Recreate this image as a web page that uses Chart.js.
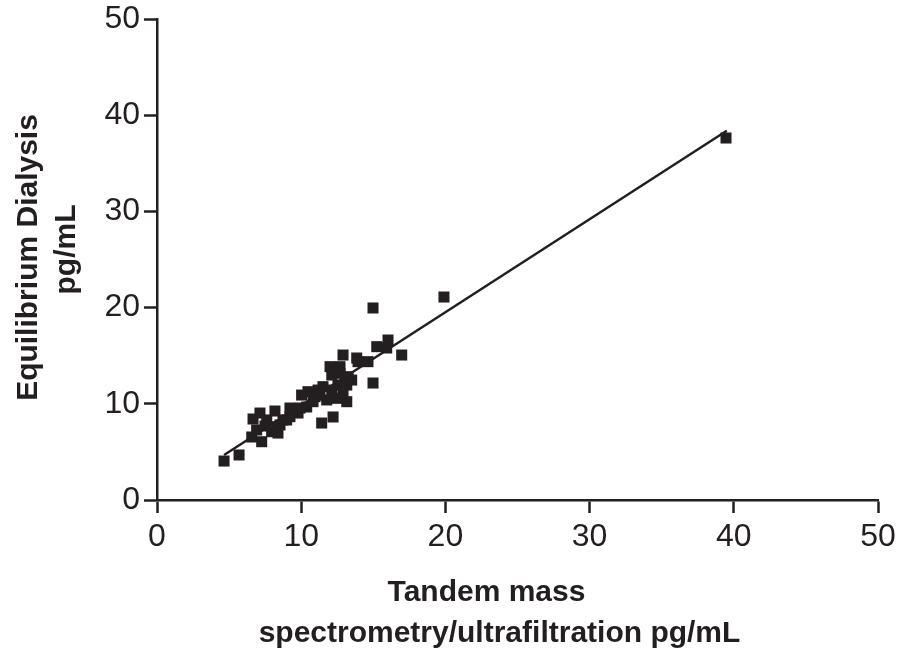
<!DOCTYPE html>
<html>
<head>
<meta charset="utf-8">
<script src="https://cdn.jsdelivr.net/npm/chart.js@4/dist/chart.umd.min.js"></script>
<style>
  html, body { margin: 0; padding: 0; background: #ffffff; }
  #wrap { width: 898px; height: 649px; }
</style>
</head>
<body>
<div id="wrap"><canvas id="c" width="898" height="649"></canvas></div>
<script>
// Tandem MS/ultrafiltration (x) vs equilibrium dialysis (y), pg/mL
const xValues = [4.65, 5.69, 6.57, 7.26, 6.66, 7.14, 8.18, 7.49, 7.95, 8.39,
                 8.53, 8.99, 9.22, 9.78, 9.92, 10.38, 10.03, 10.47, 10.96, 11.17,
                 11.51, 11.77, 11.42, 12.21, 12.12, 12.55, 12.90, 13.16, 12.00, 12.69,
                 12.90, 13.25, 13.50, 13.94, 13.85, 14.63, 14.98, 15.24, 16.02, 15.93,
                 16.97, 14.98, 19.90, 39.46,
                 9.22, 8.74, 8.30, 6.91, 7.61, 10.82, 11.30, 12.46, 12.69, 13.16, 12.12];
const yValues = [4.05, 4.68, 6.55, 6.06, 8.42, 9.04, 9.25, 7.69, 7.10, 6.96,
                 7.80, 8.32, 9.56, 9.04, 9.56, 9.67, 10.91, 11.26, 10.74, 11.43,
                 11.78, 10.40, 8.00, 8.63, 11.43, 11.95, 11.26, 10.22, 13.86, 13.86,
                 15.07, 12.82, 12.47, 14.38, 14.76, 14.38, 12.16, 15.94, 16.63, 15.80,
                 15.07, 19.96, 21.10, 37.63,
                 8.66, 8.32, 7.62, 7.28, 8.32, 10.22, 10.91, 10.57, 13.17, 11.95, 12.99];
// regression line end points
const fitX = [4.65, 39.51];
const fitY = [4.68, 38.39];
const xTicks = [0, 10, 20, 30, 40, 50];
const yTicks = [0, 10, 20, 30, 40, 50];
const xTitle = ["Tandem mass", "spectrometry/ultrafiltration pg/mL"];
const yTitle = ["Equilibrium Dialysis", "pg/mL"];

const INK = '#231f20';
const FONT = '"Liberation Sans", Arial, Helvetica, sans-serif';

const scatterData = xValues.map((x, i) => ({ x: x, y: yValues[i] }));
const fitData = fitX.map((x, i) => ({ x: x, y: fitY[i] }));

const axisTitles = {
  id: 'axisTitles',
  afterDraw(chart) {
    const ctx = chart.ctx;
    const a = chart.chartArea;
    const cx = (a.left + a.right) / 2;
    const cy = (a.top + a.bottom) / 2;
    ctx.save();
    ctx.fillStyle = INK;
    ctx.font = 'bold 30px ' + FONT;
    ctx.textAlign = 'center';
    ctx.textBaseline = 'alphabetic';
    ctx.fillText(xTitle[0], cx - 31, a.bottom + 101);
    ctx.fillText(xTitle[1], cx - 18, a.bottom + 142);
    ctx.save();
    ctx.translate(0, cy - 2);
    ctx.rotate(-Math.PI / 2);
    ctx.fillText(yTitle[0], 0, 37);
    ctx.restore();
    ctx.translate(0, cy - 10);
    ctx.rotate(-Math.PI / 2);
    ctx.fillText(yTitle[1], 0, 75);
    ctx.restore();
  }
};

function clearScalePadding(scale) {
  scale.paddingTop = 0;
  scale.paddingBottom = 0;
  scale.paddingLeft = 0;
  scale.paddingRight = 0;
}

function axisCommon(ticksArr) {
  return {
    type: 'linear',
    min: ticksArr[0],
    max: ticksArr[ticksArr.length - 1],
    afterBuildTicks(scale) { scale.ticks = ticksArr.map(v => ({ value: v })); },
    border: { display: true, color: INK, width: 2.5 },
    grid: { display: true, drawOnChartArea: false, drawTicks: true, tickLength: 13, tickWidth: 2.5, tickColor: INK, color: INK },
    title: { display: false }
  };
}

const xAxis = axisCommon(xTicks);
xAxis.ticks = { color: INK, font: { family: FONT, size: 32 }, padding: 5, maxRotation: 0, autoSkip: false };
xAxis.afterFit = (scale) => { scale.height = 149; clearScalePadding(scale); };

const yAxis = axisCommon(yTicks);
yAxis.ticks = { color: INK, font: { family: FONT, size: 32 }, padding: 4, autoSkip: false };
yAxis.afterFit = (scale) => { scale.width = 157; clearScalePadding(scale); };

new Chart(document.getElementById('c'), {
  type: 'scatter',
  data: {
    datasets: [
      {
        label: 'Samples',
        data: scatterData,
        pointStyle: 'rect',
        pointRadius: 7.8,
        pointBorderWidth: 0,
        backgroundColor: INK,
        borderColor: INK,
        showLine: false
      },
      {
        label: 'Fit',
        data: fitData,
        showLine: true,
        borderColor: INK,
        borderWidth: 2.5,
        pointRadius: 0,
        fill: false
      }
    ]
  },
  options: {
    responsive: false,
    animation: false,
    layout: { padding: { left: 0, right: 20, top: 19, bottom: 0 } },
    plugins: { legend: { display: false }, tooltip: { enabled: false } },
    scales: { x: xAxis, y: yAxis }
  },
  plugins: [axisTitles]
});
</script>
</body>
</html>
